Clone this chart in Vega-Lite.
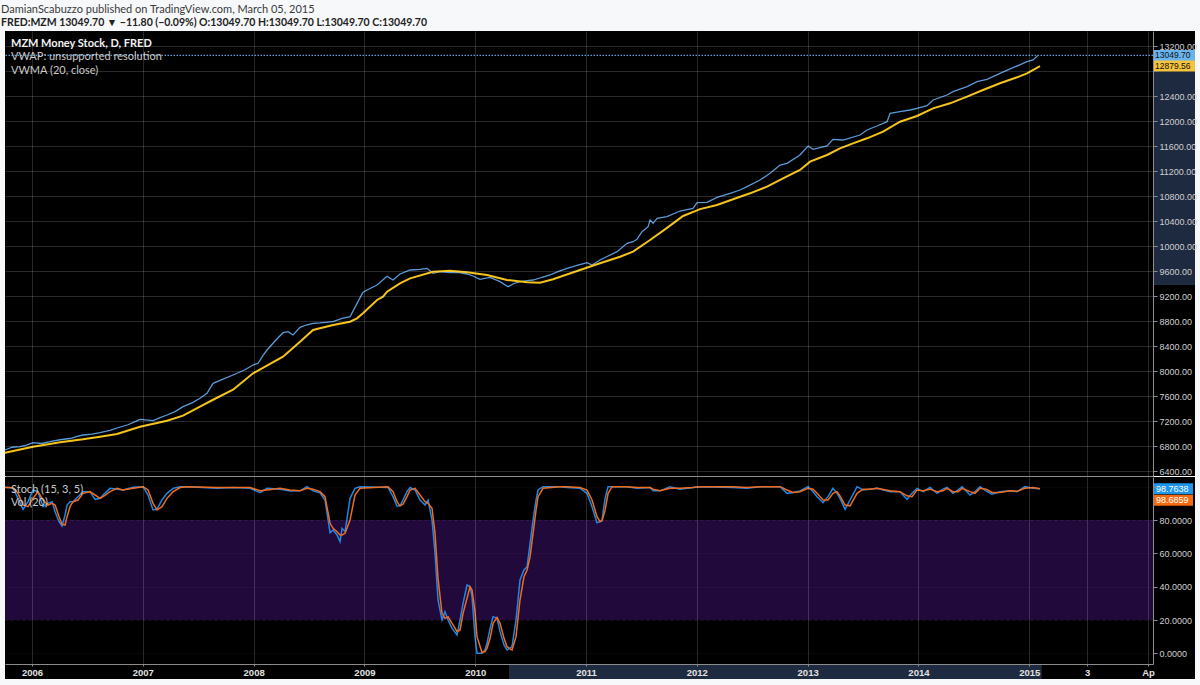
{
  "$schema": "https://vega.github.io/schema/vega-lite/v6.json",
  "background": "#f7f8fa",
  "padding": {"left": 1, "top": 3, "right": 3, "bottom": 6},
  "title": {
    "text": "DamianScabuzzo published on TradingView.com, March 05, 2015",
    "subtitle": "FRED:MZM 13049.70 ▼ −11.80 (−0.09%) O:13049.70 H:13049.70 L:13049.70 C:13049.70",
    "anchor": "start",
    "offset": 3,
    "font": "Lato",
    "fontSize": 11,
    "fontWeight": "normal",
    "color": "#3a3a3a",
    "subtitleFont": "Lato",
    "subtitleFontSize": 10.5,
    "subtitleFontWeight": "bold",
    "subtitleColor": "#222222",
    "subtitlePadding": 3
  },
  "datasets": {
    "price": [
      {"t": 2005.756, "v": 6736}, {"t": 2005.820, "v": 6780}, {"t": 2005.892, "v": 6790}, {"t": 2005.950, "v": 6815},
      {"t": 2006.009, "v": 6853}, {"t": 2006.090, "v": 6840}, {"t": 2006.162, "v": 6869}, {"t": 2006.253, "v": 6900},
      {"t": 2006.343, "v": 6920}, {"t": 2006.400, "v": 6950}, {"t": 2006.460, "v": 6976}, {"t": 2006.542, "v": 6990},
      {"t": 2006.614, "v": 7013}, {"t": 2006.704, "v": 7050}, {"t": 2006.767, "v": 7088}, {"t": 2006.866, "v": 7140},
      {"t": 2006.930, "v": 7190}, {"t": 2006.975, "v": 7227}, {"t": 2007.092, "v": 7205}, {"t": 2007.150, "v": 7250},
      {"t": 2007.218, "v": 7296}, {"t": 2007.291, "v": 7350}, {"t": 2007.363, "v": 7429}, {"t": 2007.444, "v": 7490},
      {"t": 2007.516, "v": 7563}, {"t": 2007.579, "v": 7643}, {"t": 2007.634, "v": 7803}, {"t": 2007.697, "v": 7850},
      {"t": 2007.814, "v": 7936}, {"t": 2007.922, "v": 8020}, {"t": 2007.995, "v": 8096}, {"t": 2008.040, "v": 8123},
      {"t": 2008.085, "v": 8250}, {"t": 2008.121, "v": 8336}, {"t": 2008.193, "v": 8480}, {"t": 2008.265, "v": 8613},
      {"t": 2008.310, "v": 8630}, {"t": 2008.356, "v": 8576}, {"t": 2008.419, "v": 8699}, {"t": 2008.482, "v": 8740},
      {"t": 2008.536, "v": 8763}, {"t": 2008.599, "v": 8770}, {"t": 2008.717, "v": 8789}, {"t": 2008.798, "v": 8843},
      {"t": 2008.870, "v": 8869}, {"t": 2008.924, "v": 9050}, {"t": 2008.987, "v": 9260}, {"t": 2009.051, "v": 9320},
      {"t": 2009.114, "v": 9376}, {"t": 2009.204, "v": 9515}, {"t": 2009.258, "v": 9456}, {"t": 2009.321, "v": 9552},
      {"t": 2009.412, "v": 9616}, {"t": 2009.502, "v": 9627}, {"t": 2009.565, "v": 9643}, {"t": 2009.619, "v": 9563},
      {"t": 2009.682, "v": 9590}, {"t": 2009.773, "v": 9573}, {"t": 2009.845, "v": 9580}, {"t": 2009.926, "v": 9552},
      {"t": 2009.980, "v": 9520}, {"t": 2010.043, "v": 9467}, {"t": 2010.134, "v": 9499}, {"t": 2010.224, "v": 9429},
      {"t": 2010.296, "v": 9349}, {"t": 2010.350, "v": 9400}, {"t": 2010.404, "v": 9429}, {"t": 2010.522, "v": 9456},
      {"t": 2010.603, "v": 9500}, {"t": 2010.675, "v": 9536}, {"t": 2010.747, "v": 9590}, {"t": 2010.829, "v": 9643},
      {"t": 2010.919, "v": 9690}, {"t": 2011.009, "v": 9733}, {"t": 2011.054, "v": 9696}, {"t": 2011.126, "v": 9776},
      {"t": 2011.199, "v": 9840}, {"t": 2011.280, "v": 9909}, {"t": 2011.370, "v": 10043}, {"t": 2011.424, "v": 10069},
      {"t": 2011.460, "v": 10107}, {"t": 2011.505, "v": 10229}, {"t": 2011.560, "v": 10309}, {"t": 2011.578, "v": 10416},
      {"t": 2011.605, "v": 10363}, {"t": 2011.641, "v": 10443}, {"t": 2011.731, "v": 10469}, {"t": 2011.848, "v": 10560},
      {"t": 2011.966, "v": 10603}, {"t": 2012.002, "v": 10693}, {"t": 2012.092, "v": 10699}, {"t": 2012.182, "v": 10779},
      {"t": 2012.300, "v": 10843}, {"t": 2012.390, "v": 10896}, {"t": 2012.453, "v": 10949}, {"t": 2012.570, "v": 11056},
      {"t": 2012.661, "v": 11163}, {"t": 2012.751, "v": 11296}, {"t": 2012.814, "v": 11323}, {"t": 2012.931, "v": 11456},
      {"t": 2013.004, "v": 11600}, {"t": 2013.049, "v": 11547}, {"t": 2013.175, "v": 11600}, {"t": 2013.229, "v": 11707},
      {"t": 2013.319, "v": 11696}, {"t": 2013.473, "v": 11776}, {"t": 2013.536, "v": 11856}, {"t": 2013.626, "v": 11920},
      {"t": 2013.717, "v": 11989}, {"t": 2013.744, "v": 12123}, {"t": 2013.834, "v": 12149}, {"t": 2013.924, "v": 12176},
      {"t": 2013.987, "v": 12203}, {"t": 2014.078, "v": 12245}, {"t": 2014.132, "v": 12336}, {"t": 2014.258, "v": 12416},
      {"t": 2014.312, "v": 12469}, {"t": 2014.439, "v": 12549}, {"t": 2014.529, "v": 12629}, {"t": 2014.619, "v": 12667},
      {"t": 2014.736, "v": 12763}, {"t": 2014.854, "v": 12853}, {"t": 2014.980, "v": 12949}, {"t": 2015.034, "v": 12976},
      {"t": 2015.079, "v": 13049.7}
    ],
    "vwma": [
      {"t": 2005.756, "v": 6693}, {"t": 2006.009, "v": 6789}, {"t": 2006.253, "v": 6860}, {"t": 2006.460, "v": 6907},
      {"t": 2006.614, "v": 6949}, {"t": 2006.767, "v": 6992}, {"t": 2006.975, "v": 7109}, {"t": 2007.218, "v": 7205},
      {"t": 2007.363, "v": 7285}, {"t": 2007.516, "v": 7429}, {"t": 2007.634, "v": 7540}, {"t": 2007.814, "v": 7700},
      {"t": 2007.995, "v": 7963}, {"t": 2008.265, "v": 8229}, {"t": 2008.419, "v": 8469}, {"t": 2008.536, "v": 8656},
      {"t": 2008.717, "v": 8736}, {"t": 2008.870, "v": 8789}, {"t": 2008.933, "v": 8843}, {"t": 2008.987, "v": 8923},
      {"t": 2009.114, "v": 9136}, {"t": 2009.168, "v": 9189}, {"t": 2009.204, "v": 9269}, {"t": 2009.321, "v": 9403},
      {"t": 2009.412, "v": 9483}, {"t": 2009.619, "v": 9589}, {"t": 2009.773, "v": 9605}, {"t": 2009.926, "v": 9579},
      {"t": 2010.106, "v": 9536}, {"t": 2010.287, "v": 9456}, {"t": 2010.468, "v": 9419}, {"t": 2010.585, "v": 9413},
      {"t": 2010.702, "v": 9467}, {"t": 2010.946, "v": 9616}, {"t": 2011.126, "v": 9723}, {"t": 2011.307, "v": 9829},
      {"t": 2011.424, "v": 9909}, {"t": 2011.578, "v": 10096}, {"t": 2011.731, "v": 10290}, {"t": 2011.876, "v": 10480},
      {"t": 2012.029, "v": 10590}, {"t": 2012.182, "v": 10656}, {"t": 2012.327, "v": 10747}, {"t": 2012.480, "v": 10843},
      {"t": 2012.634, "v": 10949}, {"t": 2012.778, "v": 11083}, {"t": 2012.931, "v": 11216}, {"t": 2013.022, "v": 11349},
      {"t": 2013.175, "v": 11456}, {"t": 2013.292, "v": 11563}, {"t": 2013.410, "v": 11643}, {"t": 2013.536, "v": 11723},
      {"t": 2013.681, "v": 11829}, {"t": 2013.834, "v": 11989}, {"t": 2013.987, "v": 12080}, {"t": 2014.132, "v": 12203},
      {"t": 2014.285, "v": 12283}, {"t": 2014.439, "v": 12389}, {"t": 2014.583, "v": 12496}, {"t": 2014.736, "v": 12603},
      {"t": 2014.890, "v": 12699}, {"t": 2014.980, "v": 12763}, {"t": 2015.097, "v": 12879.56}
    ],
    "stoch": [
      {"t": 2005.756, "k": 99.6, "d": 99.5}, {"t": 2005.801, "k": 99.3, "d": 99.5}, {"t": 2005.829, "k": 99, "d": 99.2},
      {"t": 2005.874, "k": 93, "d": 96}, {"t": 2005.919, "k": 86.4, "d": 89}, {"t": 2005.964, "k": 91, "d": 88},
      {"t": 2006.009, "k": 98, "d": 93}, {"t": 2006.054, "k": 97, "d": 97}, {"t": 2006.099, "k": 88, "d": 92},
      {"t": 2006.144, "k": 90, "d": 89}, {"t": 2006.181, "k": 91, "d": 90}, {"t": 2006.208, "k": 85, "d": 89},
      {"t": 2006.244, "k": 79, "d": 82}, {"t": 2006.271, "k": 76.4, "d": 77.5}, {"t": 2006.298, "k": 83, "d": 77},
      {"t": 2006.316, "k": 89, "d": 82}, {"t": 2006.343, "k": 91, "d": 88}, {"t": 2006.370, "k": 91, "d": 91},
      {"t": 2006.415, "k": 94, "d": 92}, {"t": 2006.460, "k": 97, "d": 96}, {"t": 2006.523, "k": 97, "d": 97},
      {"t": 2006.569, "k": 92.4, "d": 95}, {"t": 2006.614, "k": 93, "d": 93}, {"t": 2006.641, "k": 95, "d": 94},
      {"t": 2006.704, "k": 99, "d": 97}, {"t": 2006.767, "k": 98.5, "d": 99}, {"t": 2006.821, "k": 98, "d": 98},
      {"t": 2006.912, "k": 99.6, "d": 99}, {"t": 2007.002, "k": 100, "d": 100}, {"t": 2007.047, "k": 95, "d": 98},
      {"t": 2007.092, "k": 86, "d": 90}, {"t": 2007.128, "k": 86.5, "d": 86}, {"t": 2007.173, "k": 92, "d": 88},
      {"t": 2007.218, "k": 96, "d": 93}, {"t": 2007.273, "k": 99, "d": 97}, {"t": 2007.336, "k": 100, "d": 99.5},
      {"t": 2007.399, "k": 100, "d": 100}, {"t": 2007.670, "k": 99, "d": 99.5}, {"t": 2007.814, "k": 99.5, "d": 99.5},
      {"t": 2007.968, "k": 99, "d": 99.5}, {"t": 2008.058, "k": 96.4, "d": 97.5}, {"t": 2008.121, "k": 99, "d": 98},
      {"t": 2008.238, "k": 98.5, "d": 99}, {"t": 2008.329, "k": 97.4, "d": 98}, {"t": 2008.419, "k": 97.5, "d": 97.5},
      {"t": 2008.482, "k": 100, "d": 99}, {"t": 2008.536, "k": 97.5, "d": 98.5}, {"t": 2008.599, "k": 96.3, "d": 97},
      {"t": 2008.644, "k": 92, "d": 94}, {"t": 2008.690, "k": 72.4, "d": 78}, {"t": 2008.717, "k": 74, "d": 75},
      {"t": 2008.753, "k": 71, "d": 73}, {"t": 2008.780, "k": 67, "d": 71}, {"t": 2008.798, "k": 75, "d": 71},
      {"t": 2008.825, "k": 73, "d": 72}, {"t": 2008.870, "k": 93, "d": 80}, {"t": 2008.915, "k": 99, "d": 95},
      {"t": 2008.960, "k": 100, "d": 99}, {"t": 2009.213, "k": 99.5, "d": 100}, {"t": 2009.258, "k": 94, "d": 97},
      {"t": 2009.294, "k": 88.4, "d": 91}, {"t": 2009.321, "k": 88.5, "d": 88.5}, {"t": 2009.348, "k": 92, "d": 89.5},
      {"t": 2009.384, "k": 97, "d": 94}, {"t": 2009.412, "k": 99.5, "d": 98}, {"t": 2009.457, "k": 98, "d": 99},
      {"t": 2009.502, "k": 92, "d": 95}, {"t": 2009.547, "k": 89, "d": 91}, {"t": 2009.574, "k": 92, "d": 90},
      {"t": 2009.610, "k": 80, "d": 87}, {"t": 2009.637, "k": 60, "d": 72}, {"t": 2009.664, "k": 32, "d": 45},
      {"t": 2009.700, "k": 20, "d": 24}, {"t": 2009.727, "k": 25, "d": 21}, {"t": 2009.755, "k": 20, "d": 22},
      {"t": 2009.791, "k": 15, "d": 18}, {"t": 2009.836, "k": 11, "d": 13}, {"t": 2009.863, "k": 20, "d": 14},
      {"t": 2009.890, "k": 30, "d": 24}, {"t": 2009.926, "k": 41, "d": 33}, {"t": 2009.953, "k": 40, "d": 40},
      {"t": 2009.971, "k": 34, "d": 38}, {"t": 2009.998, "k": 10, "d": 25}, {"t": 2010.016, "k": 0, "d": 10},
      {"t": 2010.061, "k": 0, "d": 0.5}, {"t": 2010.088, "k": 2, "d": 1}, {"t": 2010.106, "k": 6, "d": 3},
      {"t": 2010.134, "k": 15, "d": 9}, {"t": 2010.161, "k": 22, "d": 18}, {"t": 2010.197, "k": 21, "d": 21.5},
      {"t": 2010.224, "k": 13, "d": 18}, {"t": 2010.260, "k": 5, "d": 9}, {"t": 2010.287, "k": 2, "d": 4},
      {"t": 2010.332, "k": 4, "d": 2}, {"t": 2010.368, "k": 20, "d": 10}, {"t": 2010.404, "k": 44, "d": 32},
      {"t": 2010.440, "k": 50, "d": 46}, {"t": 2010.468, "k": 52, "d": 50}, {"t": 2010.495, "k": 66, "d": 58},
      {"t": 2010.522, "k": 80, "d": 72}, {"t": 2010.549, "k": 92, "d": 86}, {"t": 2010.567, "k": 98, "d": 94},
      {"t": 2010.612, "k": 100, "d": 99}, {"t": 2010.765, "k": 100, "d": 100}, {"t": 2010.829, "k": 99.5, "d": 100},
      {"t": 2010.946, "k": 99, "d": 99.5}, {"t": 2011.009, "k": 96, "d": 98}, {"t": 2011.054, "k": 88, "d": 92},
      {"t": 2011.099, "k": 78.3, "d": 82}, {"t": 2011.126, "k": 79, "d": 79}, {"t": 2011.144, "k": 80, "d": 79.5},
      {"t": 2011.172, "k": 93, "d": 86}, {"t": 2011.199, "k": 100, "d": 96}, {"t": 2011.235, "k": 100, "d": 100},
      {"t": 2011.370, "k": 100, "d": 100}, {"t": 2011.460, "k": 99, "d": 99.5}, {"t": 2011.578, "k": 99.5, "d": 99.5},
      {"t": 2011.605, "k": 97.5, "d": 98.5}, {"t": 2011.668, "k": 97.5, "d": 97.5}, {"t": 2011.758, "k": 100, "d": 99},
      {"t": 2011.848, "k": 98.4, "d": 99}, {"t": 2011.966, "k": 99.5, "d": 99.5}, {"t": 2012.029, "k": 100, "d": 100},
      {"t": 2012.327, "k": 99.5, "d": 100}, {"t": 2012.453, "k": 99, "d": 99.5}, {"t": 2012.570, "k": 100, "d": 100},
      {"t": 2012.751, "k": 100, "d": 100}, {"t": 2012.814, "k": 96, "d": 98}, {"t": 2012.868, "k": 96.5, "d": 96.5},
      {"t": 2012.931, "k": 97.4, "d": 97}, {"t": 2013.004, "k": 100, "d": 99}, {"t": 2013.049, "k": 97, "d": 98.5},
      {"t": 2013.085, "k": 94, "d": 96}, {"t": 2013.139, "k": 90.4, "d": 92}, {"t": 2013.184, "k": 94, "d": 92},
      {"t": 2013.229, "k": 99, "d": 96}, {"t": 2013.265, "k": 96, "d": 97}, {"t": 2013.292, "k": 93, "d": 94.5},
      {"t": 2013.338, "k": 86.4, "d": 89}, {"t": 2013.383, "k": 92, "d": 88.5}, {"t": 2013.446, "k": 100, "d": 96},
      {"t": 2013.500, "k": 98, "d": 98.5}, {"t": 2013.563, "k": 98.5, "d": 98.5}, {"t": 2013.626, "k": 99, "d": 99},
      {"t": 2013.744, "k": 97, "d": 97.5}, {"t": 2013.834, "k": 97, "d": 97}, {"t": 2013.897, "k": 92.4, "d": 94.5},
      {"t": 2013.942, "k": 96, "d": 94}, {"t": 2013.987, "k": 99, "d": 98}, {"t": 2014.042, "k": 97, "d": 97.5},
      {"t": 2014.105, "k": 99.5, "d": 98.5}, {"t": 2014.168, "k": 96, "d": 97}, {"t": 2014.222, "k": 98.5, "d": 97.5},
      {"t": 2014.258, "k": 99.5, "d": 99}, {"t": 2014.312, "k": 96, "d": 97}, {"t": 2014.357, "k": 98, "d": 97},
      {"t": 2014.394, "k": 100, "d": 99}, {"t": 2014.466, "k": 95, "d": 97}, {"t": 2014.511, "k": 97, "d": 96},
      {"t": 2014.556, "k": 100, "d": 99}, {"t": 2014.610, "k": 97.5, "d": 98.5}, {"t": 2014.664, "k": 95.5, "d": 96.5},
      {"t": 2014.736, "k": 97, "d": 96.5}, {"t": 2014.827, "k": 97.5, "d": 97.5}, {"t": 2014.890, "k": 97, "d": 97.2},
      {"t": 2014.962, "k": 100, "d": 99}, {"t": 2015.034, "k": 99, "d": 99.5}, {"t": 2015.097, "k": 98.7638, "d": 98.6859}
    ]
  },
  "spacing": 1,
  "vconcat": [
    {
      "width": 1148,
      "height": 445,
      "layer": [
        {
          "data": {"values": [{}]},
          "mark": {"type": "rect", "fill": "#000000"},
          "encoding": {
            "x": {
              "datum": 2005.756,
              "type": "quantitative",
              "scale": {"domain": [2005.756, 2016.117], "nice": false, "zero": false},
              "axis": {
                "title": null,
                "zindex": 1,
                "values": [2006, 2007, 2008, 2009, 2010, 2011, 2012, 2013, 2014, 2015, 2015.522, 2016.072],
                "tickCount": 40,
                "grid": true,
                "labels": false,
                "ticks": false,
                "domain": true
              }
            },
            "x2": {"datum": 2016.496}
          }
        },
        {
          "data": {"values": [{}]},
          "mark": {"type": "rect", "fill": "#1e2a40"},
          "encoding": {
            "x": {"datum": 2016.126, "type": "quantitative"},
            "x2": {"datum": 2016.496},
            "y": {
              "datum": 9376,
              "type": "quantitative",
              "scale": {"domain": [6320, 13440], "nice": false, "zero": false},
              "axis": {
                "title": null,
                "zindex": 1,
                "orient": "right",
                "values": [6400, 6800, 7200, 7600, 8000, 8400, 8800, 9200, 9600, 10000, 10400, 10800, 11200, 11600, 12000, 12400, 12800, 13200],
                "tickCount": 40,
                "labelExpr": "datum.value === 12800 ? '' : format(datum.value, '.2f')",
                "labelOverlap": false,
                "grid": true,
                "tickSize": 4,
                "labelPadding": 2
              }
            },
            "y2": {"datum": 13049.7}
          }
        },
        {
          "data": {"values": [{"v": 13049.7}]},
          "mark": {"type": "rule", "stroke": "#5a9ad8", "strokeWidth": 1.2, "strokeDash": [1.5, 1.5]},
          "encoding": {"y": {"field": "v", "type": "quantitative"}}
        },
        {
          "data": {"name": "price"},
          "mark": {"type": "line", "strokeWidth": 1.3},
          "encoding": {
            "x": {"field": "t", "type": "quantitative"},
            "y": {"field": "v", "type": "quantitative"},
            "color": {
              "datum": "MZM Money Stock, D, FRED",
              "type": "nominal",
              "scale": {
                "domain": ["MZM Money Stock, D, FRED", "VWAP: unsupported resolution", "VWMA (20, close)"],
                "range": ["#5a9ad8", "#000000", "#f6c319"]
              },
              "legend": {
                "orient": "top-left",
                "offset": 7,
                "symbolType": "circle",
                "symbolSize": 0.01,
                "symbolStrokeWidth": 0,
                "symbolOpacity": 0,
                "labelOffset": -12,
                "encode": {
                  "labels": {
                    "update": {
                      "fontWeight": {"signal": "datum.label === 'MZM Money Stock, D, FRED' ? 'bold' : 'normal'"},
                      "fill": {"signal": "datum.label === 'MZM Money Stock, D, FRED' ? '#f2f2f2' : '#c8c8c8'"}
                    }
                  }
                }
              }
            }
          }
        },
        {
          "data": {"name": "vwma"},
          "mark": {"type": "line", "strokeWidth": 2},
          "encoding": {
            "x": {"field": "t", "type": "quantitative"},
            "y": {"field": "v", "type": "quantitative"},
            "color": {"datum": "VWMA (20, close)", "type": "nominal"}
          }
        },
        {
          "data": {"values": [{"lbl": "13049.70", "v": 13049.7, "kind": "price"}, {"lbl": "12879.56", "v": 12879.56, "kind": "vwma"}]},
          "layer": [
            {
              "mark": {"type": "rect", "yOffset": -5.5, "y2Offset": 5.5},
              "encoding": {
                "x": {"datum": 2016.117, "type": "quantitative"},
                "x2": {"datum": 2016.496},
                "y": {"field": "v", "type": "quantitative"},
                "y2": {"field": "v"},
                "fill": {
                  "field": "kind",
                  "type": "nominal",
                  "scale": {"domain": ["price", "vwma"], "range": ["#6ab4ee", "#f5c43c"]},
                  "legend": null
                }
              }
            },
            {
              "mark": {"type": "text", "align": "left", "baseline": "middle", "dx": 2, "font": "Liberation Sans", "fontSize": 8.5, "fill": "#111111"},
              "encoding": {
                "x": {"datum": 2016.117, "type": "quantitative"},
                "y": {"field": "v", "type": "quantitative"},
                "text": {"field": "lbl"}
              }
            }
          ]
        }
      ]
    },
    {
      "width": 1148,
      "height": 187,
      "layer": [
        {
          "data": {"values": [{}]},
          "mark": {"type": "rect", "fill": "#000000"},
          "encoding": {
            "x": {
              "datum": 2005.756,
              "type": "quantitative",
              "scale": {"domain": [2005.756, 2016.117], "nice": false, "zero": false},
              "axis": {
                "title": null,
                "zindex": 1,
                "values": [2006, 2007, 2008, 2009, 2010, 2011, 2012, 2013, 2014, 2015, 2015.522, 2016.072],
                "tickCount": 40,
                "labelExpr": "datum.value < 2015.5 ? format(datum.value, 'd') : (datum.value < 2016 ? '3' : 'Ap')",
                "labelOverlap": false,
                "grid": true,
                "ticks": true,
                "tickSize": 2,
                "labelPadding": 1,
                "labelFontSize": 9.5,
                "labelFontWeight": "bold",
                "labelColor": "#e2e2e2",
                "labelFlush": false
              }
            },
            "x2": {"datum": 2016.496},
            "y": {
              "datum": -15.4,
              "type": "quantitative",
              "scale": {"domain": [-6.4, 105.8], "nice": false, "zero": false},
              "axis": {
                "title": null,
                "zindex": 1,
                "orient": "right",
                "values": [0, 20, 40, 60, 80, 100],
                "tickCount": 40,
                "labelExpr": "datum.value === 100 ? '' : format(datum.value, '.4f')",
                "labelOverlap": false,
                "grid": true,
                "tickSize": 4,
                "labelPadding": 2,
                "gridDash": {"condition": {"test": "datum.value === 20 || datum.value === 80", "value": [3, 3]}, "value": []},
                "gridColor": {"condition": {"test": "datum.value === 20 || datum.value === 80", "value": "#7d7d7d"}, "value": "#ffffff"},
                "gridOpacity": {"condition": {"test": "datum.value === 20 || datum.value === 80", "value": 1}, "value": 0.16}
              }
            },
            "y2": {"datum": 105.8}
          }
        },
        {
          "data": {"values": [{"lo": 20, "hi": 80}]},
          "mark": {"type": "rect", "fill": "#22093b"},
          "encoding": {
            "y": {"field": "lo", "type": "quantitative"},
            "y2": {"field": "hi"}
          }
        },
        {
          "data": {"values": [{}]},
          "mark": {"type": "rect", "fill": "#1e2a40"},
          "encoding": {
            "x": {"datum": 2010.305, "type": "quantitative"},
            "x2": {"datum": 2015.113},
            "y": {"datum": -6.4, "type": "quantitative"},
            "y2": {"datum": -15.4}
          }
        },
        {
          "data": {"name": "stoch"},
          "mark": {"type": "line", "strokeWidth": 1.5},
          "encoding": {
            "x": {"field": "t", "type": "quantitative"},
            "y": {"field": "k", "type": "quantitative"},
            "color": {
              "datum": "Stoch (15, 3, 5)",
              "type": "nominal",
              "scale": {
                "domain": ["Stoch (15, 3, 5)", "Vol (20)", "%D"],
                "range": ["#1e88e5", "#000000", "#f26b1d"]
              },
              "legend": {
                "orient": "top-left",
                "offset": 7,
                "symbolType": "circle",
                "symbolSize": 0.01,
                "symbolStrokeWidth": 0,
                "symbolOpacity": 0,
                "labelOffset": -12,
                "values": ["Stoch (15, 3, 5)", "Vol (20)"]
              }
            }
          }
        },
        {
          "data": {"name": "stoch"},
          "mark": {"type": "line", "strokeWidth": 1.5},
          "encoding": {
            "x": {"field": "t", "type": "quantitative"},
            "y": {"field": "d", "type": "quantitative"},
            "color": {"datum": "%D", "type": "nominal"}
          }
        },
        {
          "data": {"values": [{"lbl": "98.7638", "v": 98.7638}]},
          "layer": [
            {
              "mark": {"type": "rect", "fill": "#1e96f0", "yOffset": -5.5, "y2Offset": 5.5},
              "encoding": {
                "x": {"datum": 2016.117, "type": "quantitative"},
                "x2": {"datum": 2016.478},
                "y": {"field": "v", "type": "quantitative"},
                "y2": {"field": "v"}
              }
            },
            {
              "mark": {"type": "text", "align": "left", "baseline": "middle", "dx": 3, "font": "Liberation Sans", "fontSize": 9, "fill": "#ffffff"},
              "encoding": {
                "x": {"datum": 2016.117, "type": "quantitative"},
                "y": {"field": "v", "type": "quantitative"},
                "text": {"field": "lbl"}
              }
            }
          ]
        },
        {
          "data": {"values": [{"lbl": "98.6859", "v": 98.6859}]},
          "layer": [
            {
              "mark": {"type": "rect", "fill": "#f56a10", "yOffset": 6, "y2Offset": 17},
              "encoding": {
                "x": {"datum": 2016.117, "type": "quantitative"},
                "x2": {"datum": 2016.478},
                "y": {"field": "v", "type": "quantitative"},
                "y2": {"field": "v"}
              }
            },
            {
              "mark": {"type": "text", "align": "left", "baseline": "middle", "dx": 3, "dy": 11.5, "font": "Liberation Sans", "fontSize": 9, "fill": "#ffffff"},
              "encoding": {
                "x": {"datum": 2016.117, "type": "quantitative"},
                "y": {"field": "v", "type": "quantitative"},
                "text": {"field": "lbl"}
              }
            }
          ]
        }
      ]
    }
  ],
  "resolve": {"scale": {"color": "independent"}, "legend": {"color": "independent"}},
  "config": {
    "view": {"stroke": null},
    "axis": {
      "zindex": 1,
      "domainColor": "#8c8c8c",
      "tickColor": "#8c8c8c",
      "gridColor": "#ffffff",
      "gridOpacity": 0.16,
      "labelFont": "Liberation Sans",
      "labelFontSize": 9,
      "labelColor": "#d0d0d0"
    },
    "legend": {
      "title": null,
      "padding": 0,
      "rowPadding": 1.5,
      "labelFont": "Lato",
      "labelFontSize": 11,
      "labelColor": "#c8c8c8",
      "labelLimit": 400
    }
  }
}
